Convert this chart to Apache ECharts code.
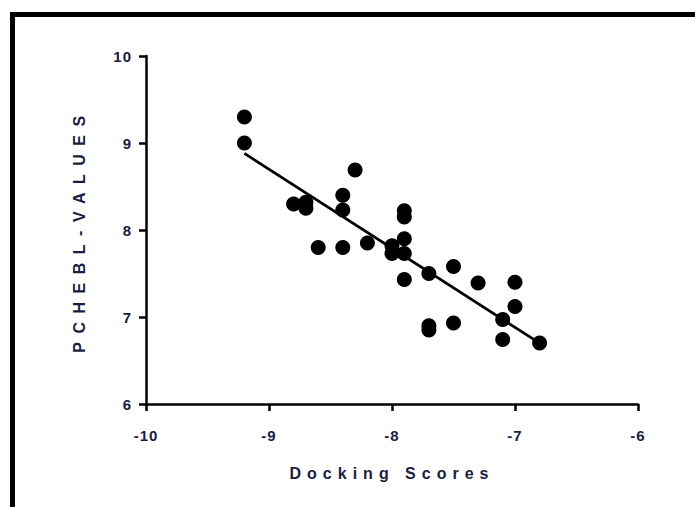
<!DOCTYPE html>
<html>
<head>
<meta charset="utf-8">
<script src="https://cdn.jsdelivr.net/npm/echarts@6/dist/echarts.min.js"></script>
<style>
html,body{margin:0;padding:0;background:#fff;}
#chart{width:695px;height:507px;}
</style>
</head>
<body>
<div id="chart"></div>
<script>
// Data
const dockingScores = [-9.2, -9.2, -8.8, -8.7, -8.7, -8.6, -8.4, -8.4, -8.4, -8.3, -8.2, -8.0, -8.0, -7.9, -7.9, -7.9, -7.9, -7.9, -7.7, -7.7, -7.7, -7.5, -7.5, -7.3, -7.0, -7.0, -7.1, -7.1, -6.8];
const pchemblValues = [9.3, 9.0, 8.3, 8.32, 8.25, 7.8, 8.4, 8.23, 7.8, 8.69, 7.85, 7.82, 7.73, 8.22, 8.15, 7.9, 7.73, 7.43, 7.5, 6.9, 6.85, 7.58, 6.93, 7.39, 7.4, 7.12, 6.97, 6.74, 6.7];
const fitX = [-9.2, -6.8];
const fitY = [8.88, 6.70];
const xTicks = [-10, -9, -8, -7, -6];
const yTicks = [6, 7, 8, 9, 10];

const points = dockingScores.map((x, i) => [x, pchemblValues[i]]);
const fitLine = fitX.map((x, i) => [x, fitY[i]]);

const chart = echarts.init(document.getElementById('chart'), null, {renderer: 'svg'});
const labelColor = '#1c1c40';
chart.setOption({
  animation: false,
  backgroundColor: '#fff',
  graphic: [{
    type: 'rect',
    shape: {x: 12.5, y: 14.5, width: 720, height: 540},
    style: {fill: 'none', stroke: '#000', lineWidth: 5},
    silent: true
  }],
  grid: {left: 146, right: 57, top: 56, bottom: 103},
  xAxis: {
    type: 'value', min: -10, max: -6, interval: 1,
    name: 'Docking Scores', nameLocation: 'middle', nameGap: 61,
    nameTextStyle: {fontFamily: 'Liberation Sans', fontWeight: 'bold', fontSize: 16, color: labelColor},
    axisLine: {show: true, onZero: false, lineStyle: {color: '#000', width: 2.5}},
    axisTick: {show: true, length: 7, lineStyle: {color: '#000', width: 2.5}},
    axisLabel: {margin: 24, fontFamily: 'Liberation Sans', fontWeight: 'bold', fontSize: 15, color: labelColor,
      formatter: v => xTicks.includes(v) ? String(v) : ''},
    splitLine: {show: false}
  },
  yAxis: {
    type: 'value', min: 6, max: 10, interval: 1,
    name: 'PCHEBL-VALUES', nameLocation: 'middle', nameGap: 59,
    nameTextStyle: {fontFamily: 'Liberation Sans', fontWeight: 'bold', fontSize: 16, color: labelColor},
    axisLine: {show: true, onZero: false, lineStyle: {color: '#000', width: 2.5}},
    axisTick: {show: true, length: 7, lineStyle: {color: '#000', width: 2.5}},
    axisLabel: {margin: 14, fontFamily: 'Liberation Sans', fontWeight: 'bold', fontSize: 15, color: labelColor,
      formatter: v => yTicks.includes(v) ? String(v) : ''},
    splitLine: {show: false}
  },
  series: [{
    type: 'line',
    data: fitLine,
    symbol: 'none',
    lineStyle: {color: '#000', width: 2.8},
    z: 2
  }, {
    type: 'scatter',
    data: points,
    symbol: 'circle',
    symbolSize: 15,
    itemStyle: {color: '#000', opacity: 1},
    z: 3
  }]
});

function spaceTitles(){
  document.querySelectorAll('#chart text').forEach(t => {
    const s = t.textContent;
    if (s === 'Docking Scores') t.setAttribute('letter-spacing', '6px');
    if (s === 'PCHEBL-VALUES') t.setAttribute('letter-spacing', '8.5px');
    if (/^-?\d+$/.test(s)) t.setAttribute('letter-spacing', '1px');
  });
}
spaceTitles();
chart.on('finished', spaceTitles);
</script>
</body>
</html>
